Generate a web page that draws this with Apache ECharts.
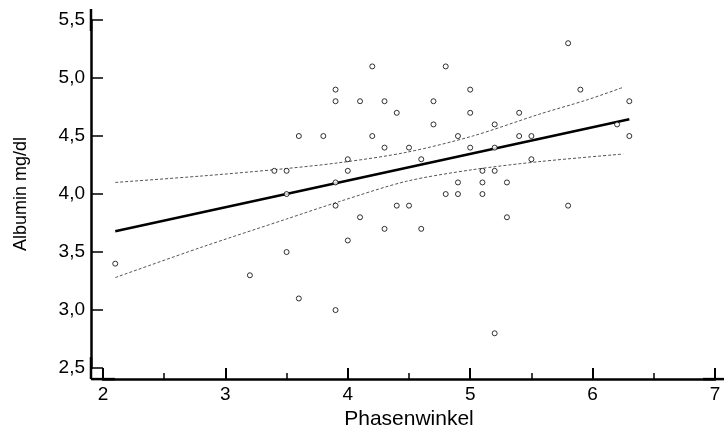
<!DOCTYPE html>
<html>
<head>
<meta charset="utf-8">
<script src="https://cdn.jsdelivr.net/npm/echarts@6/dist/echarts.min.js"></script>
<style>
  html, body { margin: 0; padding: 0; background: #fff; }
  #main { width: 724px; height: 435px; }
</style>
</head>
<body>
<div id="main"></div>
<script>
// Messpunkte (Phasenwinkel / Albumin)
var phaseX = [2.1, 3.2, 3.4, 3.5, 3.5, 3.5, 3.6, 3.6, 3.8, 3.9, 3.9, 3.9, 3.9, 3.9,
              4.0, 4.0, 4.0, 4.1, 4.1, 4.2, 4.2, 4.3, 4.3, 4.3, 4.4, 4.4, 4.5, 4.5,
              4.6, 4.6, 4.7, 4.7, 4.8, 4.8, 4.9, 4.9, 4.9, 5.0, 5.0, 5.0, 5.1, 5.1,
              5.1, 5.2, 5.2, 5.2, 5.2, 5.3, 5.3, 5.4, 5.4, 5.5, 5.5, 5.8, 5.8, 5.9,
              6.2, 6.3, 6.3];
var albumin = [3.4, 3.3, 4.2, 4.2, 4.0, 3.5, 4.5, 3.1, 4.5, 4.9, 4.8, 4.1, 3.9, 3.0,
               4.3, 4.2, 3.6, 4.8, 3.8, 5.1, 4.5, 4.8, 4.4, 3.7, 4.7, 3.9, 4.4, 3.9,
               4.3, 3.7, 4.8, 4.6, 5.1, 4.0, 4.5, 4.1, 4.0, 4.9, 4.7, 4.4, 4.2, 4.1,
               4.0, 4.6, 4.4, 4.2, 2.8, 4.1, 3.8, 4.7, 4.5, 4.5, 4.3, 5.3, 3.9, 4.9,
               4.6, 4.8, 4.5];

// Regressionsgerade
var fitX = [2.1, 6.3];
var fitY = [3.68, 4.645];

// Konfidenzband (oben / unten)
var upperX = [2.1, 2.8, 3.4, 3.93, 4.48, 5.02, 5.57, 5.95, 6.25];
var upperY = [4.10, 4.155, 4.21, 4.27, 4.36, 4.50, 4.69, 4.81, 4.92];
var lowerX = [2.1, 2.8, 3.5, 3.93, 4.48, 5.02, 5.57, 6.25];
var lowerY = [3.28, 3.54, 3.785, 3.935, 4.11, 4.21, 4.28, 4.345];

var xTicks = [2, 7, 1];      // min, max, interval
var yTicks = [2.5, 5.5, 0.5];

function pairs(xs, ys) {
    var out = [];
    for (var i = 0; i < xs.length; i++) out.push([xs[i], ys[i]]);
    return out;
}

var chart = echarts.init(document.getElementById('main'));
var labelFont = 'Liberation Sans, Arial, sans-serif';

var option = {
    animation: false,
    backgroundColor: '#fff',
    grid: { left: 103, right: 9, top: 20, bottom: 66, containLabel: false },
    xAxis: {
        type: 'value',
        min: xTicks[0], max: xTicks[1], interval: xTicks[2],
        offset: 11,
        name: 'Phasenwinkel',
        nameLocation: 'middle',
        nameGap: 28,
        nameTextStyle: { color: '#000', fontSize: 21, fontFamily: labelFont },
        axisLine: {
            show: true,
            symbol: ['rect', 'rect'],
            symbolSize: [2.5, 24],
            lineStyle: { color: '#000', width: 2.5 }
        },
        axisTick: { show: true, inside: true, length: 11, lineStyle: { color: '#000', width: 2 } },
        minorTick: { show: true, splitNumber: 2, length: 6, lineStyle: { color: '#000', width: 1.5 } },
        axisLabel: { color: '#000', fontSize: 19, fontFamily: labelFont, margin: 6 },
        splitLine: { show: false }
    },
    yAxis: {
        type: 'value',
        min: yTicks[0], max: yTicks[1], interval: yTicks[2],
        offset: 12,
        name: 'Albumin mg/dl',
        nameLocation: 'middle',
        nameGap: 61,
        nameTextStyle: { color: '#000', fontSize: 18, fontFamily: labelFont },
        axisLine: {
            show: true,
            symbol: ['rect', 'rect'],
            symbolSize: [2.5, 22],
            lineStyle: { color: '#000', width: 2.5 }
        },
        axisTick: { show: true, inside: true, length: 12, lineStyle: { color: '#000', width: 1.5 } },
        axisLabel: {
            color: '#000', fontSize: 19, fontFamily: labelFont, margin: 6,
            formatter: function (v) { return v.toFixed(1).replace('.', ','); }
        },
        splitLine: { show: false }
    },
    series: [
        {
            name: 'oben',
            type: 'line',
            data: pairs(upperX, upperY),
            showSymbol: false,
            smooth: 0.3,
            lineStyle: { color: '#555', width: 1, type: [3, 2] },
            z: 2
        },
        {
            name: 'unten',
            type: 'line',
            data: pairs(lowerX, lowerY),
            showSymbol: false,
            smooth: 0.3,
            lineStyle: { color: '#555', width: 1, type: [3, 2] },
            z: 2
        },
        {
            name: 'Regression',
            type: 'line',
            data: pairs(fitX, fitY),
            showSymbol: false,
            lineStyle: { color: '#000', width: 2.5 },
            z: 3
        },
        {
            name: 'Albumin',
            type: 'scatter',
            data: pairs(phaseX, albumin),
            symbol: 'circle',
            symbolSize: 5,
            itemStyle: { color: '#fff', borderColor: '#000', borderWidth: 1 },
            z: 4
        }
    ]
};
chart.setOption(option);
</script>
</body>
</html>
